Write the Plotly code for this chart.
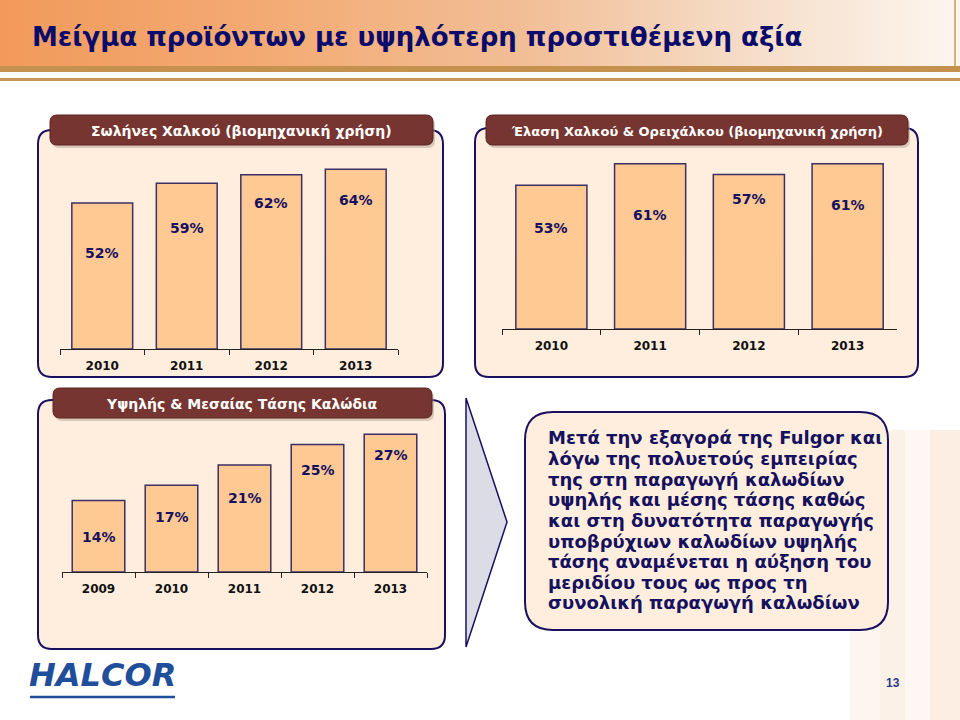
import plotly.graph_objects as go

W, H = 960, 720

# data
years_pipes = ["2010", "2011", "2012", "2013"]
share_pipes = [52, 59, 62, 64]

years_rolled = ["2010", "2011", "2012", "2013"]
share_rolled = [53, 61, 57, 61]

years_cables = ["2009", "2010", "2011", "2012", "2013"]
share_cables = [14, 17, 21, 25, 27]

title_main = "Μείγμα προϊόντων με υψηλότερη προστιθέμενη αξία"
title_pipes = "Σωλήνες Χαλκού (βιομηχανική χρήση)"
title_rolled = "Έλαση Χαλκού & Ορειχάλκου (βιομηχανική χρήση)"
title_cables = "Υψηλής & Μεσαίας Τάσης Καλώδια"
note_lines = [
    "Μετά την εξαγορά της Fulgor και",
    "λόγω της πολυετούς εμπειρίας",
    "της στη παραγωγή καλωδίων",
    "υψηλής και μέσης τάσης καθώς",
    "και στη δυνατότητα παραγωγής",
    "υποβρύχιων καλωδίων υψηλής",
    "τάσης αναμένεται η αύξηση του",
    "μεριδίου τους ως προς τη",
    "συνολική παραγωγή καλωδίων",
]

# label drop below the bar top (px), as placed on the slide
drop_pipes = [50, 45, 28, 31]
drop_rolled = [43, 51, 24, 41]
drop_cables = [36, 32, 33, 25, 21]

NAVY = "#15115E"
BAR_FILL = "#FFC994"
BAR_LINE = "#3B2F63"
BOX_FILL = "#FFEEDD"
BOX_LINE = "#1A1060"
TAB_FILL = "#763530"
FONT = "DejaVu Sans"


def px(x):
    return x / W


def py(y):
    return 1 - y / H


def rounded(x0, y0, x1, y1, r):
    # rounded rectangle in pixel coords -> paper path
    pts = [
        f"M {px(x0 + r)} {py(y0)}",
        f"L {px(x1 - r)} {py(y0)}",
        f"Q {px(x1)} {py(y0)} {px(x1)} {py(y0 + r)}",
        f"L {px(x1)} {py(y1 - r)}",
        f"Q {px(x1)} {py(y1)} {px(x1 - r)} {py(y1)}",
        f"L {px(x0 + r)} {py(y1)}",
        f"Q {px(x0)} {py(y1)} {px(x0)} {py(y1 - r)}",
        f"L {px(x0)} {py(y0 + r)}",
        f"Q {px(x0)} {py(y0)} {px(x0 + r)} {py(y0)}",
        "Z",
    ]
    return " ".join(pts)


def mix(c1, c2, t):
    a = [int(c1[i:i + 2], 16) for i in (1, 3, 5)]
    b = [int(c2[i:i + 2], 16) for i in (1, 3, 5)]
    return "#" + "".join(f"{round(a[k] + (b[k] - a[k]) * t):02x}" for k in range(3))


shapes = []

# header band gradient
stops = [(0, "#F29A5C"), (250, "#F3AA72"), (520, "#F2BE96"), (720, "#F5DAC4"), (960, "#FDF7F0")]
step = 8
for x in range(0, W, step):
    for (xa, ca), (xb, cb) in zip(stops[:-1], stops[1:]):
        if xa <= x < xb:
            c = mix(ca, cb, (x - xa) / (xb - xa))
    shapes.append(dict(type="rect", xref="paper", yref="paper", x0=px(x), x1=px(x + step + 1),
                       y0=py(67), y1=py(0), fillcolor=c, line_width=0, layer="below"))
shapes.append(dict(type="rect", xref="paper", yref="paper", x0=0, x1=1, y0=py(72), y1=py(66),
                   fillcolor="#C4924E", line_width=0, layer="below"))
shapes.append(dict(type="rect", xref="paper", yref="paper", x0=0, x1=1, y0=py(81), y1=py(78),
                   fillcolor="#C9975A", line_width=0, layer="below"))
shapes.append(dict(type="rect", xref="paper", yref="paper", x0=px(954), x1=px(956), y0=py(66), y1=py(0),
                   fillcolor="#D7B07A", line_width=0, layer="below"))

# faint copper streaks bottom right
for x0, x1, col in [(850, 880, "#F8E0CC"), (880, 905, "#F6CFAF"), (905, 930, "#FBE6D6"), (930, 960, "#F4C6A2")]:
    shapes.append(dict(type="rect", xref="paper", yref="paper", x0=px(x0), x1=px(x1), y0=0, y1=py(430),
                       fillcolor=col, opacity=0.3, line_width=0, layer="below"))

# panel boxes
for (x0, y0, x1, y1) in [(38, 130, 443, 377), (475, 128, 918, 377), (38, 400, 445, 649)]:
    shapes.append(dict(type="path", path=rounded(x0, y0, x1, y1, 14), xref="paper", yref="paper",
                       fillcolor=BOX_FILL, line=dict(color=BOX_LINE, width=2), layer="below"))

# tabs
for (x0, y0, x1, y1) in [(50, 115, 433, 145), (486, 115, 908, 145), (53, 388, 432, 418)]:
    shapes.append(dict(type="path", path=rounded(x0 + 2, y0 + 3, x1 + 2, y1 + 3, 7), xref="paper", yref="paper",
                       fillcolor="#B8A090", opacity=0.5, line_width=0, layer="below"))
    shapes.append(dict(type="path", path=rounded(x0, y0, x1, y1, 7), xref="paper", yref="paper",
                       fillcolor=TAB_FILL, line=dict(color="#5A2420", width=1), layer="below"))

# chevron
shapes.append(dict(type="path", xref="paper", yref="paper",
                   path=f"M {px(466)} {py(398)} L {px(507)} {py(522)} L {px(466)} {py(647)} Z",
                   fillcolor="#DCDCE6", line=dict(color=BOX_LINE, width=1.5), layer="below"))

# note box
shapes.append(dict(type="path", path=rounded(525, 412, 888, 630, 28), xref="paper", yref="paper",
                   fillcolor=BOX_FILL, line=dict(color=BOX_LINE, width=2), layer="below"))

# logo underline
shapes.append(dict(type="line", xref="paper", yref="paper", x0=px(30), x1=px(175), y0=py(697), y1=py(697),
                   line=dict(color="#1F4E9A", width=2.5)))

fig = go.Figure()

panels = [
    ("x", "y", years_pipes, share_pipes, drop_pipes, (60, 398), 349, 2.81, 70),
    ("x2", "y2", years_rolled, share_rolled, drop_rolled, (502, 897), 329, 2.71, 70),
    ("x3", "y3", years_cables, share_cables, drop_cables, (62, 427), 572, 5.1, 30),
]

annotations = []
for i, (xa, ya, cats, vals, drops, (xl, xr), base, scale, top) in enumerate(panels):
    fig.add_trace(go.Bar(x=cats, y=vals, xaxis=xa, yaxis=ya,
                         marker=dict(color=BAR_FILL, line=dict(color=BAR_LINE, width=1.5)),
                         hoverinfo="skip", showlegend=False))
    sfx = "" if i == 0 else str(i + 1)
    fig.layout["xaxis" + sfx] = dict(domain=[px(xl), px(xr)], anchor=ya, type="category",
                                      range=[-0.5, len(cats) - 0.5],
                                      showline=True, linecolor="#222222", linewidth=1,
                                      ticks="outside", tickson="boundaries", ticklen=5, tickcolor="#222222",
                                      tickfont=dict(family=FONT, size=12, color="#111111", weight="bold"),
                                      ticklabelstandoff=6, showgrid=False, zeroline=False, fixedrange=True)
    fig.layout["yaxis" + sfx] = dict(domain=[py(base), py(base - scale * top)], anchor=xa,
                                      range=[0, top], visible=False, fixedrange=True)
    for k, (v, d) in enumerate(zip(vals, drops)):
        annotations.append(dict(x=k, y=v, xref=xa, yref=ya, text=f"<b>{v}%</b>", showarrow=False,
                                yanchor="middle", yshift=-d,
                                font=dict(family=FONT, size=14, color=NAVY)))

fig.update_layout(bargap=0.28)

# tab titles
for text, x, y, size in [(title_pipes, 241, 131, 14), (title_rolled, 697, 131, 13), (title_cables, 242, 404, 14)]:
    annotations.append(dict(xref="paper", yref="paper", x=px(x), y=py(y), text=f"<b>{text}</b>",
                            showarrow=False, xanchor="center", yanchor="middle",
                            font=dict(family=FONT, size=size, color="white")))

# main title
annotations.append(dict(xref="paper", yref="paper", x=px(30), y=py(37), text=f"<b>{title_main}</b>",
                        showarrow=False, xanchor="left", yanchor="middle",
                        font=dict(family=FONT, size=26, color="#0B0B6B")))

# note text, one line at a time for tight leading
for k, line in enumerate(note_lines):
    annotations.append(dict(xref="paper", yref="paper", x=px(546), y=py(438 + 20.6 * k), text=f"<b>{line}</b>",
                            showarrow=False, xanchor="left", yanchor="middle", align="left",
                            font=dict(family=FONT, size=18, color=NAVY)))

# logo and page number
annotations.append(dict(xref="paper", yref="paper", x=px(27), y=py(675), text="<b><i>HALCOR</i></b>",
                        showarrow=False, xanchor="left", yanchor="middle",
                        font=dict(family=FONT, size=32, color="#1F4E9A")))
annotations.append(dict(xref="paper", yref="paper", x=px(893), y=py(683), text="<b>13</b>",
                        showarrow=False, xanchor="center", yanchor="middle",
                        font=dict(family="Liberation Sans", size=12, color="#2A3A8A")))

fig.update_layout(width=W, height=H, margin=dict(l=0, r=0, t=0, b=0),
                  paper_bgcolor="white", plot_bgcolor="rgba(0,0,0,0)",
                  shapes=shapes, annotations=annotations)

fig.write_html("out.html", config={"displayModeBar": False},
               post_script="document.body.style.margin='0';")
